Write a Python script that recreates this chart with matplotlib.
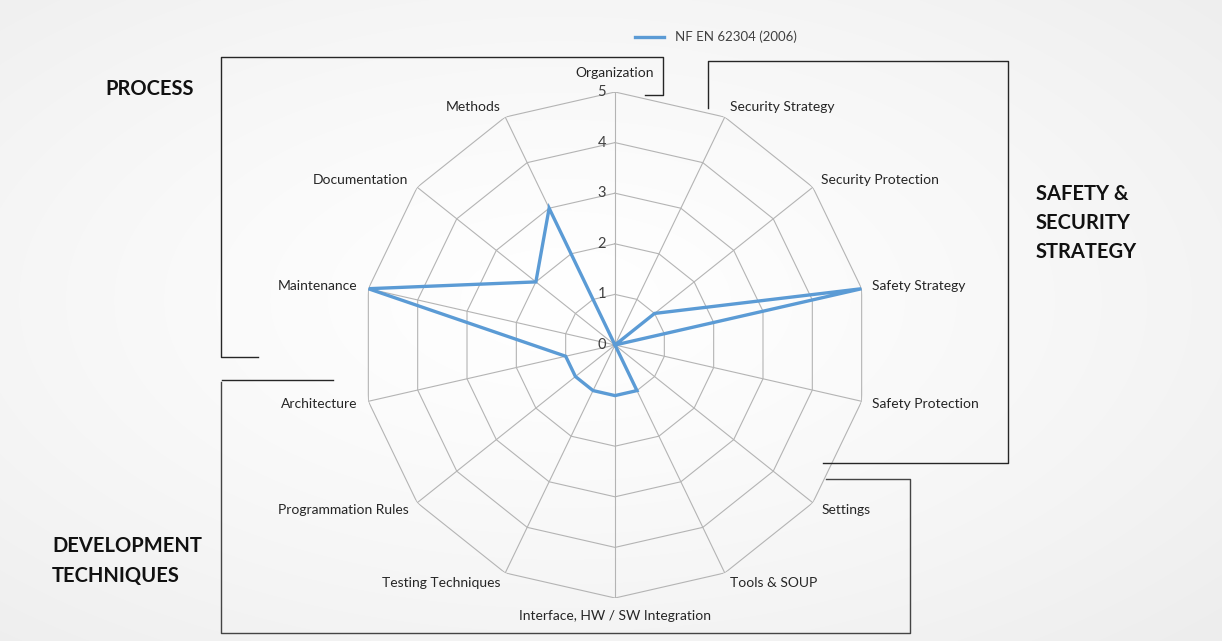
import numpy as np
import matplotlib
matplotlib.use("Agg")
import matplotlib.pyplot as plt
from matplotlib.lines import Line2D

plt.rcParams['font.family'] = ['Lato', 'DejaVu Sans']

categories = ["Organization", "Security Strategy", "Security Protection", "Safety Strategy",
              "Safety Protection", "Settings", "Tools & SOUP", "Interface, HW / SW Integration",
              "Testing Techniques", "Programmation Rules", "Architecture", "Maintenance",
              "Documentation", "Methods"]
values = [0, 0, 1, 5, 0, 0, 1, 1, 1, 1, 1, 5, 2, 3]
series_name = "NF EN 62304 (2006)"
levels = [0, 1, 2, 3, 4, 5]
group_titles = ["PROCESS", "SAFETY &\nSECURITY\nSTRATEGY", "DEVELOPMENT\nTECHNIQUES"]

W, H = 1222, 641
fig = plt.figure(figsize=(W / 100, H / 100), dpi=100)

# background radial gradient
bg = fig.add_axes([0, 0, 1, 1], zorder=-10)
yy, xx = np.mgrid[0:H, 0:W]
d = np.sqrt(((xx - 560) / W) ** 2 + ((yy - 300) / H) ** 2)
img = 1.0 - 0.07 * np.clip(d / 0.75, 0, 1) ** 1.3
bg.imshow(np.dstack([img, img, img]), extent=[0, W, H, 0], aspect='auto')
bg.set_xlim(0, W)
bg.set_ylim(H, 0)
bg.axis('off')

cx, cy, R = 615, 345, 253
ax = fig.add_axes([(cx - R) / W, 1 - (cy + R) / H, 2 * R / W, 2 * R / H], projection='polar')
ax.set_facecolor('none')
ax.set_theta_zero_location('N')
ax.set_theta_direction(-1)
ax.set_ylim(0, max(levels))
ax.grid(False)
ax.spines['polar'].set_visible(False)
ax.set_xticks([])
ax.set_yticks([])

n = len(categories)
theta = np.arange(n) * 2 * np.pi / n
th_closed = np.append(theta, theta[0])

grid_col = '#b4b4b4'
for lv in levels[1:]:
    ax.plot(th_closed, [lv] * (n + 1), color=grid_col, lw=0.8, zorder=1)
for t in theta:
    ax.plot([t, t], [0, max(levels)], color=grid_col, lw=0.8, zorder=1)

vals_closed = np.append(values, values[0])
ax.plot(th_closed, vals_closed, color='#5B9BD5', lw=2.4, zorder=3, label=series_name,
        solid_joinstyle='miter')

for lv in levels:
    ax.annotate(str(lv), (0, lv), xytext=(-9, 0), textcoords='offset pixels',
                ha='right', va='center', fontsize=10.5, color='#404040')

for t, lab in zip(theta, categories):
    s, c = np.sin(t), np.cos(t)
    if abs(s) < 0.01:
        off = (0, 13 if c > 0 else -12)
        ha = 'center'
        va = 'bottom' if c > 0 else 'top'
    else:
        off = (s * 11, c * 11)
        ha = 'left' if s > 0 else 'right'
        va = 'center'
    ax.annotate(lab, (t, max(levels)), xytext=off, textcoords='offset pixels',
                ha=ha, va=va, fontsize=10, color='#262626')

fig.legend(loc='center', bbox_to_anchor=(716 / W, 1 - 37 / H), frameon=False,
           fontsize=9.5, handlelength=2.2, labelcolor='#404040')


def px_line(xs, ys, color='#262626', lw=1.0):
    fig.add_artist(Line2D([x / W for x in xs], [1 - y / H for y in ys],
                          transform=fig.transFigure, color=color, lw=lw))


# PROCESS bracket
px_line([258, 221, 221, 663, 663, 645], [357, 357, 57, 57, 95, 95])
# SAFETY & SECURITY bracket
px_line([708, 708, 1008, 1008, 823], [108, 61, 61, 463, 463])
# DEVELOPMENT bracket
px_line([333, 222], [380, 380])
px_line([221, 221, 910, 910, 826], [382, 633, 633, 479, 479], color='#444444')

fig.text(105 / W, 1 - 89 / H, group_titles[0], fontsize=14.5, fontweight='bold',
         ha='left', va='center', color='#111111')
fig.text(1036 / W, 1 - 223 / H, group_titles[1], fontsize=14.5, fontweight='bold',
         ha='left', va='center', color='#111111', linespacing=1.58)
fig.text(52 / W, 1 - 561 / H, group_titles[2], fontsize=14.5, fontweight='bold',
         ha='left', va='center', color='#111111', linespacing=1.58)

fig.savefig('out.png', dpi=100)
